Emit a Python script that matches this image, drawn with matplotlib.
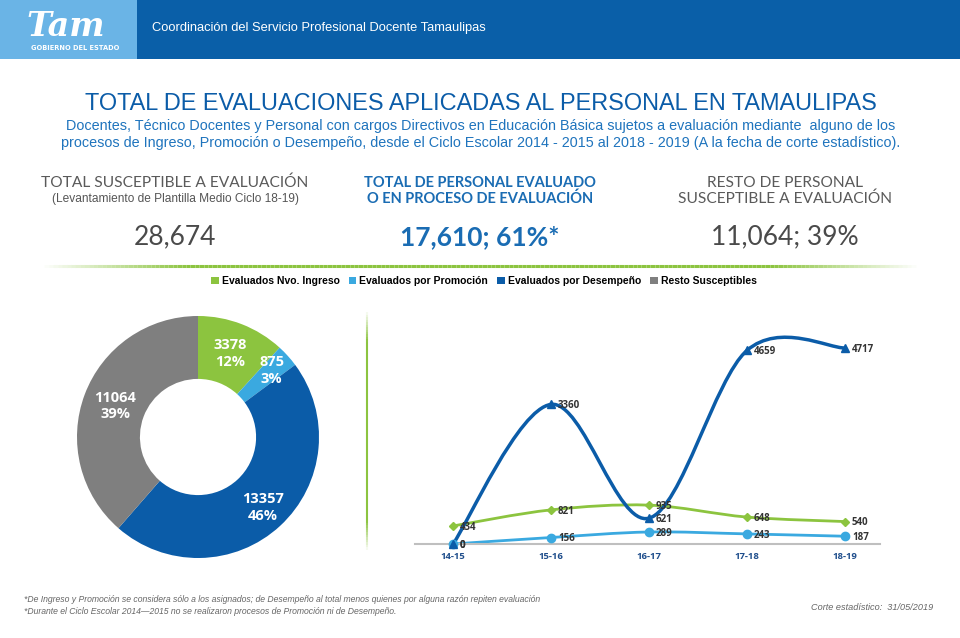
import numpy as np
import matplotlib
matplotlib.use('Agg')
import matplotlib.pyplot as plt
from matplotlib.path import Path
from matplotlib.patches import PathPatch, Patch, Rectangle
from matplotlib.collections import LineCollection

# data
pie_labels = ['Evaluados Nvo. Ingreso', 'Evaluados por Promoción',
              'Evaluados por Desempeño', 'Resto Susceptibles']
pie_values = [3378, 875, 13357, 11064]
pie_pcts = [12, 3, 46, 39]
ciclos = ['14-15', '15-16', '16-17', '17-18', '18-19']
ingreso = [434, 821, 935, 648, 540]
promocion = [0, 156, 289, 243, 187]
desempeno = [0, 3360, 621, 4659, 4717]

GREEN = '#8cc43f'
LBLUE = '#3aa9e0'
DBLUE = '#0b5ca8'
GREY = '#7f7f7f'
colors = [GREEN, LBLUE, DBLUE, GREY]

W, H = 960, 638
fig = plt.figure(figsize=(W/100, H/100), dpi=100)
fig.patch.set_facecolor('white')

# overlay axes in pixel coords (y down)
bg = fig.add_axes([0, 0, 1, 1])
bg.set_xlim(0, W)
bg.set_ylim(H, 0)
bg.axis('off')

# header band
bg.add_patch(Rectangle((0, 0), 137, 59, color='#6ab4e6', lw=0))
bg.add_patch(Rectangle((137, 0), W-137, 59, color='#0a5fa8', lw=0))
bg.text(66, 27, 'Tam', color='white', fontsize=24, fontweight='bold', style='italic',
        family='DejaVu Serif', ha='center', va='center')
bg.text(75, 48, 'GOBIERNO DEL ESTADO', color='white', fontsize=4.8, fontweight='bold',
        ha='center', va='center')
bg.text(152, 28, 'Coordinación del Servicio Profesional Docente Tamaulipas', color='white',
        fontsize=9.3, family='Liberation Sans', ha='left', va='center')

# titles
nfam = ['Liberation Sans Narrow', 'Liberation Sans']
bg.text(481, 103, 'TOTAL DE EVALUACIONES APLICADAS AL PERSONAL EN TAMAULIPAS',
        color='#0b5ca8', fontsize=16.9, family=nfam, ha='center', va='center')
bg.text(481, 126, 'Docentes, Técnico Docentes y Personal con cargos Directivos en Educación Básica '
        'sujetos a evaluación mediante  alguno de los', color='#1f74bd', fontsize=10.4,
        family=nfam, ha='center', va='center')
bg.text(481, 143, 'procesos de Ingreso, Promoción o Desempeño, desde el Ciclo Escolar 2014 - 2015 '
        'al 2018 - 2019 (A la fecha de corte estadístico).', color='#1f74bd', fontsize=10.4,
        family=nfam, ha='center', va='center')

# KPI blocks
kfam = ['Lato', 'DejaVu Sans']
bg.text(175, 183, 'TOTAL SUSCEPTIBLE A EVALUACIÓN', color='#5a5a5a', fontsize=11.2,
        family=kfam, ha='center', va='center')
bg.text(175, 199, '(Levantamiento de Plantilla Medio Ciclo 18-19)', color='#555555', fontsize=8.6,
        family=nfam, ha='center', va='center')
bg.text(175, 237, '28,674', color='#4a4a4a', fontsize=19, family=kfam,
        ha='center', va='center')

bg.text(480, 183, 'TOTAL DE PERSONAL EVALUADO', color='#1a6cb3', fontsize=10.5,
        family=kfam, fontweight='bold', ha='center', va='center')
bg.text(480, 199, 'O EN PROCESO DE EVALUACIÓN', color='#1a6cb3', fontsize=10.5,
        family=kfam, fontweight='bold', ha='center', va='center')
bg.text(480, 237, '17,610; 61%*', color='#1a6cb3', fontsize=19, family=kfam, fontweight='bold',
        ha='center', va='center')

bg.text(785, 183, 'RESTO DE PERSONAL', color='#5a5a5a', fontsize=11.2,
        family=kfam, ha='center', va='center')
bg.text(785, 199, 'SUSCEPTIBLE A EVALUACIÓN', color='#5a5a5a', fontsize=11.2,
        family=kfam, ha='center', va='center')
bg.text(785, 237, '11,064; 39%', color='#4a4a4a', fontsize=19, family=kfam,
        ha='center', va='center')

# green dividers with faded ends
xs = np.linspace(40, 920, 200)
segs = [[(xs[i], 266), (xs[i+1], 266)] for i in range(len(xs)-1)]
t = np.linspace(0, 1, len(segs))
alph = np.clip(np.minimum(t, 1-t)*6, 0, 1)
bg.add_collection(LineCollection(segs, colors=[(0.55, 0.77, 0.25, a) for a in alph], lw=2.2))
ys = np.linspace(310, 552, 100)
segs = [[(367, ys[i]), (367, ys[i+1])] for i in range(len(ys)-1)]
t = np.linspace(0, 1, len(segs))
alph = np.clip(np.minimum(t, 1-t)*8, 0, 1)
bg.add_collection(LineCollection(segs, colors=[(0.55, 0.77, 0.25, a) for a in alph], lw=1.5))

# footnotes
bg.text(24, 600, '*De Ingreso y Promoción se considera sólo a los asignados; de Desempeño al total '
        'menos quienes por alguna razón repiten evaluación', color='#666666', fontsize=6.25,
        style='italic', family=nfam, ha='left', va='center')
bg.text(24, 612, '*Durante el Ciclo Escolar 2014—2015 no se realizaron procesos de Promoción '
        'ni de Desempeño.', color='#666666', fontsize=6.25, style='italic', family=nfam,
        ha='left', va='center')
bg.text(933, 607, 'Corte estadístico:  31/05/2019', color='#666666', fontsize=6.6,
        style='italic', family=nfam, ha='right', va='center')

# legend
handles = [Patch(facecolor=c, edgecolor='none') for c in colors]
fig.legend(handles, pie_labels, loc='center', bbox_to_anchor=(484/W, 1-281/H), ncol=4,
           frameon=False, handlelength=0.7, handleheight=0.7, handletextpad=0.3,
           columnspacing=0.9, prop={'family': nfam, 'weight': 'bold', 'size': 7.5})

# donut
cx, cy, r = 198, 437, 121
axp = fig.add_axes([(cx-r)/W, 1-(cy+r)/H, 2*r/W, 2*r/H])
wedges, _ = axp.pie(pie_values, colors=colors, startangle=90, counterclock=False,
                    wedgeprops=dict(width=0.52, edgecolor='none'), radius=1)
axp.set_xlim(-1, 1)
axp.set_ylim(-1, 1)
lab_r = [0.74, 0.82, 0.79, 0.73]
for w, v, p, lr in zip(wedges, pie_values, pie_pcts, lab_r):
    ang = np.deg2rad((w.theta1 + w.theta2)/2)
    axp.text(lr*np.cos(ang), lr*np.sin(ang), f'{v}\n{p}%', color='white',
             fontsize=10.5, fontweight='bold', ha='center', va='center', linespacing=1.25,
             family='Open Sans')


# line chart with Excel-like smoothing
def smooth_path(x, y):
    pts = np.column_stack([x, y]).astype(float)
    n = len(pts)
    verts = [pts[0]]
    codes = [Path.MOVETO]
    for i in range(n-1):
        p0 = pts[max(i-1, 0)]
        p1 = pts[i]
        p2 = pts[i+1]
        p3 = pts[min(i+2, n-1)]
        verts += [p1 + (p2-p0)/6, p2 - (p3-p1)/6, p2]
        codes += [Path.CURVE4]*3
    return Path(verts, codes)


px0, px1 = 415, 880
py0, py1 = 544, 320
ax = fig.add_axes([px0/W, 1-py0/H, (px1-px0)/W, (py0-py1)/H])
ax.set_xlim((px0-453)/98, (px1-453)/98)
ax.set_ylim(0, (py0-py1)*4717/196)
x = np.arange(len(ciclos))
for vals, c, m, ms, lw in [(ingreso, GREEN, 'D', 4, 2.0),
                           (promocion, LBLUE, 'o', 6, 2.0),
                           (desempeno, DBLUE, '^', 6, 2.5)]:
    ax.add_patch(PathPatch(smooth_path(x, vals), facecolor='none', edgecolor=c, lw=lw,
                           clip_on=False, capstyle='round'))
    ax.plot(x, vals, linestyle='none', marker=m, color=c, markersize=ms, clip_on=False, zorder=3)
    for xi, v in zip(x, vals):
        ax.annotate(str(v), (xi, v), xytext=(5, -1), textcoords='offset points',
                    fontsize=7, fontweight='bold', color='#333333', va='center', ha='left',
                    family='Open Sans', annotation_clip=False)
ax.set_xticks(x)
ax.set_xticklabels(ciclos, fontsize=6.8, fontweight='bold', color='#1f4e8c',
                   family='Open Sans')
ax.tick_params(axis='x', length=0, pad=6)
ax.set_yticks([])
for s in ['top', 'right', 'left']:
    ax.spines[s].set_visible(False)
ax.spines['bottom'].set_color('#bfbfbf')
ax.spines['bottom'].set_linewidth(1.5)
ax.patch.set_alpha(0)

fig.savefig('out.png', dpi=100)
